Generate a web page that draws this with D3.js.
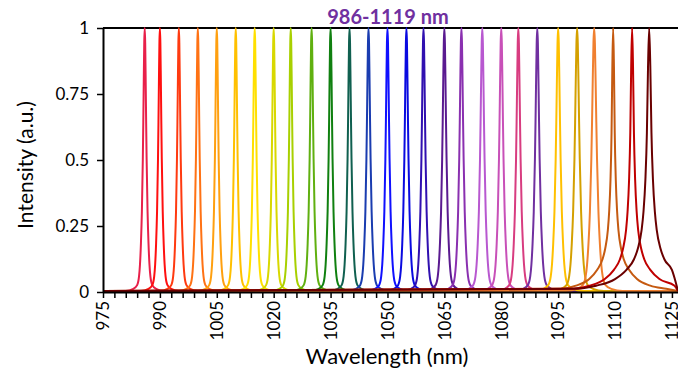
<!DOCTYPE html>
<html>
<head>
<meta charset="utf-8">
<script src="https://cdn.jsdelivr.net/npm/d3@7"></script>
<style>
  body { margin: 0; background: #fff; }
  svg { display: block; font-family: Lato, "Open Sans", sans-serif; }
</style>
</head>
<body>
<div id="chart"></div>
<script>
// peak centres (nm)
const centers = [986, 990, 995, 1000, 1005, 1010, 1015, 1020, 1024.5, 1030, 1035, 1040, 1045, 1050,
  1055, 1059.5, 1065, 1069.5, 1075, 1080, 1084.5, 1089.5, 1095, 1100, 1104.5, 1109.5, 1114.5, 1119];
// width scale (nm) for each peak
const halfWidths = [0.5, 0.5, 0.5, 0.5, 0.5, 0.5, 0.5, 0.5, 0.5, 0.52, 0.52, 0.52, 0.55, 0.55,
  0.55, 0.55, 0.58, 0.58, 0.6, 0.6, 0.6, 0.62, 0.65, 0.7, 0.75, 0.7, 0.8, 1.0];
// which measured line shape each peak follows (0 = sharp, 1 = broad tails)
const shapes = [0, 0, 0, 0, 0, 0, 0, 0, 0, 0, 0, 0, 0, 0,
  0, 0, 0, 0, 0, 0, 0, 0, 0, 0, 0, 1, 1, 1];
const colors = ['#e8204a', '#ff1010', '#ff3a10', '#ff7214', '#ffa010', '#ffc000', '#ffe000', '#d8d800',
  '#a8d000', '#60b010', '#108010', '#106050', '#1a3cb0', '#1010ff', '#0a0ae0', '#3010b0', '#5a1a90',
  '#8a30b0', '#b858d0', '#c850b8', '#d83c80', '#7030a0', '#ffc000', '#d4a000', '#f08030', '#c55a11',
  '#c00000', '#6a0000'];
// measured line shapes: offset from centre (in width units) vs intensity
const sharpOffsets = [0, 0.25, 0.5, 0.75, 1, 1.5, 2, 2.5, 3, 4, 6, 10];
const sharpValues = [1, 0.94, 0.8, 0.64, 0.5, 0.3, 0.18, 0.1, 0.055, 0.022, 0.008, 0];
const broadOffsets = [0, 0.3, 0.6, 1, 1.5, 2, 3, 4, 6, 9, 14, 20];
const broadValues = [1, 0.85, 0.6, 0.42, 0.3, 0.23, 0.16, 0.12, 0.08, 0.045, 0.02, 0.008];
const baseLevel = 0.004;
const yTicks = [0, 0.25, 0.5, 0.75, 1];
const xLabelStep = 15;

const W = 678, H = 371;
const margin = { top: 28, right: 0, bottom: 79, left: 103 };
const xMin = 975, xMax = 1126.6;

const svg = d3.select('#chart').append('svg')
  .attr('width', W)
  .attr('height', H);

const x = d3.scaleLinear().domain([xMin, xMax]).range([margin.left, W - margin.right]);
const y = d3.scaleLinear().domain([0, 1]).range([H - margin.bottom, margin.top]);

// build each spectrum from its measured shape table
function spectrum(c, hw, shape) {
  const offs = shape ? broadOffsets : sharpOffsets;
  const vals = shape ? broadValues : sharpValues;
  const pts = [[xMin, baseLevel]];
  for (let i = offs.length - 1; i > 0; i--) {
    pts.push([c - offs[i] * hw, vals[i] + baseLevel]);
  }
  for (let i = 0; i < offs.length; i++) {
    pts.push([c + offs[i] * hw, vals[i] + (i ? baseLevel : 0)]);
  }
  pts.push([xMax, baseLevel]);
  return pts.filter(p => p[0] >= xMin && p[0] <= xMax);
}

svg.append('clipPath').attr('id', 'plot')
  .append('rect')
  .attr('x', margin.left).attr('y', margin.top - 2)
  .attr('width', W - margin.left).attr('height', y(0) - margin.top + 2);

const line = d3.line()
  .x(d => x(d[0]))
  .y(d => y(d[1]))
  .curve(d3.curveMonotoneX);

// top frame line
svg.append('line')
  .attr('x1', x(xMin)).attr('x2', W)
  .attr('y1', y(1)).attr('y2', y(1))
  .attr('stroke', '#000').attr('stroke-width', 2);

svg.append('g').attr('clip-path', 'url(#plot)')
  .selectAll('path')
  .data(centers)
  .join('path')
  .attr('d', (c, i) => line(spectrum(c, halfWidths[i], shapes[i])))
  .attr('fill', 'none')
  .attr('stroke', (c, i) => colors[i])
  .attr('stroke-width', 2)
  .attr('stroke-linejoin', 'round');

// x axis
const xTickVals = d3.range(975, 1126, 3);
const xAxis = svg.append('g')
  .attr('transform', `translate(0,${y(0)})`)
  .call(d3.axisBottom(x)
    .tickValues(xTickVals)
    .tickSize(6)
    .tickSizeOuter(0)
    .tickFormat(d => (d - 975) % xLabelStep === 0 ? d : ''));
xAxis.select('.domain').attr('stroke', '#000').attr('stroke-width', 2);
xAxis.selectAll('.tick line').attr('stroke', '#000').attr('stroke-width', 1.5);
xAxis.selectAll('.tick text')
  .attr('transform', 'rotate(-90)')
  .attr('text-anchor', 'end')
  .attr('x', -9)
  .attr('y', 0)
  .attr('dy', '0.34em')
  .attr('font-size', 17)
  .attr('font-family', 'Lato, sans-serif')
  .attr('fill', '#000');

// y axis
const yAxis = svg.append('g')
  .attr('transform', `translate(${x(xMin)},0)`)
  .call(d3.axisLeft(y)
    .tickValues(yTicks)
    .tickSize(6)
    .tickSizeOuter(0)
    .tickFormat(d => d === 0 || d === 1 ? d : d3.format('.2~f')(d)));
yAxis.select('.domain').attr('stroke', '#000').attr('stroke-width', 2);
yAxis.selectAll('.tick line').attr('stroke', '#000').attr('stroke-width', 1.5);
yAxis.selectAll('.tick text')
  .attr('x', -14)
  .attr('font-size', 17)
  .attr('font-family', 'Lato, sans-serif')
  .attr('fill', '#000');

// titles
svg.append('text')
  .attr('x', 388).attr('y', 24)
  .attr('text-anchor', 'middle')
  .attr('font-size', 20)
  .attr('font-weight', 'bold')
  .attr('fill', '#7030a0')
  .text('986-1119 nm');

svg.append('text')
  .attr('x', 387).attr('y', 364)
  .attr('text-anchor', 'middle')
  .attr('font-size', 22)
  .attr('fill', '#000')
  .text('Wavelength (nm)');

svg.append('text')
  .attr('transform', 'translate(33,165) rotate(-90)')
  .attr('text-anchor', 'middle')
  .attr('font-size', 21)
  .attr('fill', '#000')
  .text('Intensity (a.u.)');
</script>
</body>
</html>
